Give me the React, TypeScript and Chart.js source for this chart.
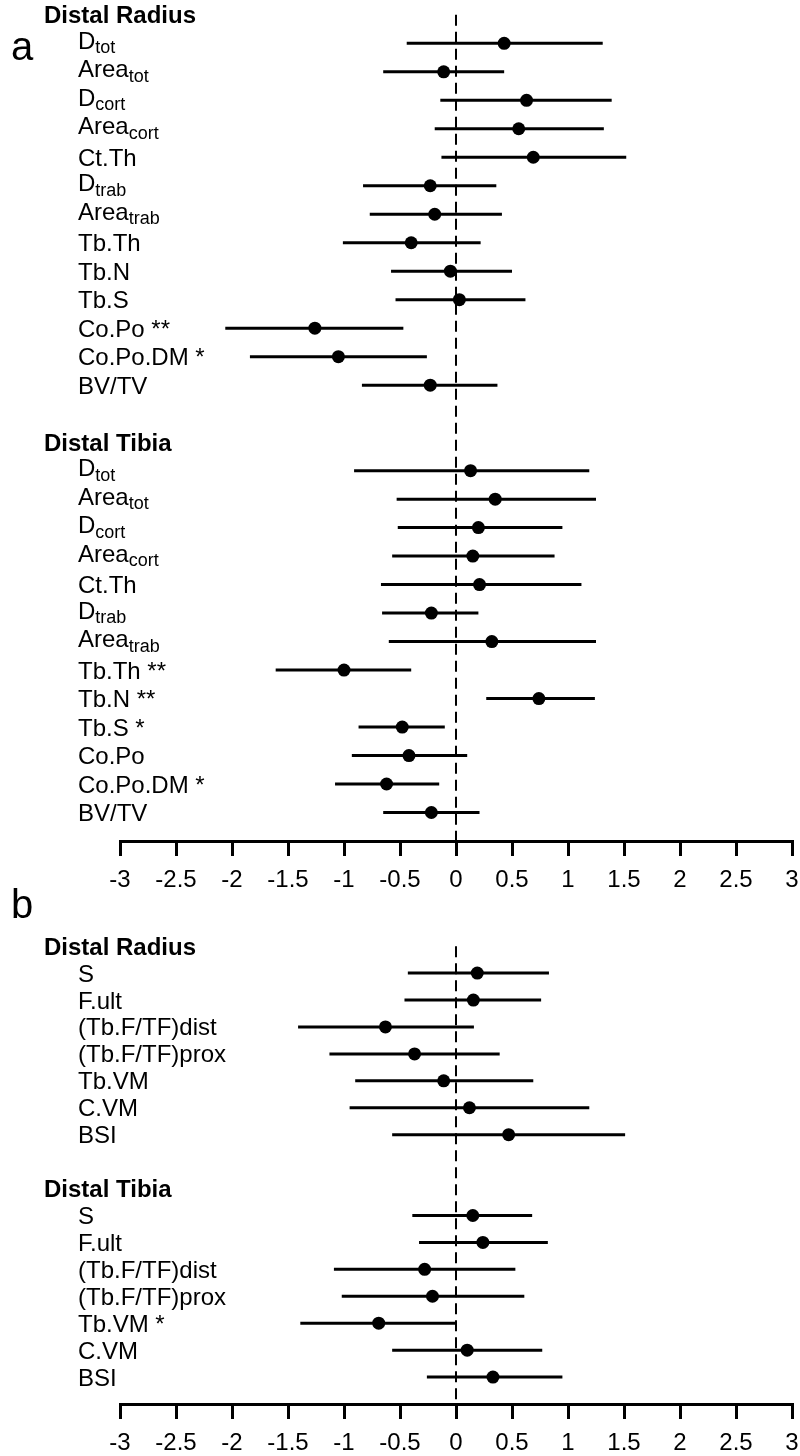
import React, { useEffect, useRef } from "react";
import { Chart, registerables } from "chart.js";

Chart.register(...registerables);

const FONT = '"Liberation Sans", Arial, Helvetica, sans-serif';

// x axis
const xTicks = [-3, -2.5, -2, -1.5, -1, -0.5, 0, 0.5, 1, 1.5, 2, 2.5, 3];
const xTickLabels = ["-3", "-2.5", "-2", "-1.5", "-1", "-0.5", "0", "0.5", "1", "1.5", "2", "2.5", "3"];

const groupNames = ["Distal Radius", "Distal Tibia"];

// Panel a – Distal Radius
const aRadiusLabels = ["D_tot", "Area_tot", "D_cort", "Area_cort", "Ct.Th", "D_trab", "Area_trab", "Tb.Th", "Tb.N", "Tb.S", "Co.Po **", "Co.Po.DM *", "BV/TV"];
const aRadiusEst = [0.43, -0.11, 0.63, 0.56, 0.69, -0.23, -0.19, -0.4, -0.05, 0.03, -1.26, -1.05, -0.23];
const aRadiusLow = [-0.44, -0.65, -0.14, -0.19, -0.13, -0.83, -0.77, -1.01, -0.58, -0.54, -2.06, -1.84, -0.84];
const aRadiusHigh = [1.31, 0.43, 1.39, 1.32, 1.52, 0.36, 0.41, 0.22, 0.5, 0.62, -0.47, -0.26, 0.37];

// Panel a – Distal Tibia
const aTibiaLabels = ["D_tot", "Area_tot", "D_cort", "Area_cort", "Ct.Th", "D_trab", "Area_trab", "Tb.Th **", "Tb.N **", "Tb.S *", "Co.Po", "Co.Po.DM *", "BV/TV"];
const aTibiaEst = [0.13, 0.35, 0.2, 0.15, 0.21, -0.22, 0.32, -1.0, 0.74, -0.48, -0.42, -0.62, -0.22];
const aTibiaLow = [-0.91, -0.53, -0.52, -0.57, -0.67, -0.66, -0.6, -1.61, 0.27, -0.87, -0.93, -1.08, -0.65];
const aTibiaHigh = [1.19, 1.25, 0.95, 0.88, 1.12, 0.2, 1.25, -0.4, 1.24, -0.1, 0.1, -0.15, 0.21];

// Panel b – Distal Radius
const bRadiusLabels = ["S", "F.ult", "(Tb.F/TF)dist", "(Tb.F/TF)prox", "Tb.VM", "C.VM", "BSI"];
const bRadiusEst = [0.19, 0.155, -0.63, -0.37, -0.11, 0.12, 0.47];
const bRadiusLow = [-0.43, -0.46, -1.41, -1.13, -0.9, -0.95, -0.57];
const bRadiusHigh = [0.83, 0.76, 0.16, 0.39, 0.69, 1.19, 1.51];

// Panel b – Distal Tibia
const bTibiaLabels = ["S", "F.ult", "(Tb.F/TF)dist", "(Tb.F/TF)prox", "Tb.VM *", "C.VM", "BSI"];
const bTibiaEst = [0.15, 0.24, -0.28, -0.21, -0.69, 0.1, 0.33];
const bTibiaLow = [-0.39, -0.33, -1.09, -1.02, -1.39, -0.57, -0.26];
const bTibiaHigh = [0.68, 0.82, 0.53, 0.61, 0.0, 0.77, 0.95];

type Group = { name: string; labels: string[]; est: number[]; low: number[]; high: number[] };

type PanelProps = {
  letter: string;
  groups: Group[];
  top: number;
  height: number;
  yMin: number;
  letterBaseline: number;
};

function Panel({ letter, groups, top, height, yMin, letterBaseline }: PanelProps) {
  const ref = useRef<HTMLCanvasElement | null>(null);

  useEffect(() => {
    if (!ref.current) return;
    const n = groups[0].labels.length;
    const axisSlot = 2 * n + 3;
    type Row = { slot: number; label: string; header: boolean; est?: number; low?: number; high?: number };
    const rows: Row[] = [];
    groups.forEach((g, gi) => {
      const base = gi * (n + 2);
      rows.push({ slot: base, label: g.name, header: true });
      g.labels.forEach((lab, i) => {
        rows.push({ slot: base + 1 + i, label: lab, header: false, est: g.est[i], low: g.low[i], high: g.high[i] });
      });
    });

    const datasets: any[] = [];
    datasets.push({
      data: rows.filter((r) => !r.header).map((r) => ({ x: r.est as number, y: r.slot })),
      pointRadius: 6.5,
      pointHoverRadius: 6.5,
      pointBackgroundColor: "#000",
      pointBorderWidth: 0,
      showLine: false,
      order: 0,
    });
    rows
      .filter((r) => !r.header)
      .forEach((r) => {
        datasets.push({
          data: [
            { x: r.low as number, y: r.slot },
            { x: r.high as number, y: r.slot },
          ],
          showLine: true,
          borderColor: "#000",
          borderWidth: 3,
          pointRadius: 0,
          pointHoverRadius: 0,
          order: 1,
        });
      });
    datasets.push({
      data: [
        { x: 0, y: 0 },
        { x: 0, y: axisSlot },
      ],
      showLine: true,
      borderColor: "#000",
      borderWidth: 2,
      borderDash: [11, 6],
      pointRadius: 0,
      pointHoverRadius: 0,
      order: 2,
    });

    const labelPlugin = {
      id: "forestLabels",
      afterDraw(chart: any) {
        const ctx = chart.ctx as CanvasRenderingContext2D;
        const ys = chart.scales.y;
        ctx.save();
        ctx.fillStyle = "#000";
        ctx.textBaseline = "alphabetic";
        ctx.textAlign = "left";
        ctx.font = `40px ${FONT}`;
        ctx.fillText(letter, 11, letterBaseline);
        rows.forEach((r) => {
          const py = ys.getPixelForValue(r.slot);
          if (r.header) {
            ctx.font = `bold 24px ${FONT}`;
            ctx.fillText(r.label, 44, py + 8.5);
            return;
          }
          const idx = r.label.indexOf("_");
          if (idx < 0) {
            ctx.font = `24px ${FONT}`;
            ctx.fillText(r.label, 78, py + 8.5);
          } else {
            const main = r.label.slice(0, idx);
            const sub = r.label.slice(idx + 1);
            ctx.font = `24px ${FONT}`;
            ctx.fillText(main, 78, py + 5.5);
            const w = ctx.measureText(main).width;
            ctx.font = `18px ${FONT}`;
            ctx.fillText(sub, 78 + w, py + 10);
          }
        });
        ctx.restore();
      },
    };

    const chart = new Chart(ref.current, {
      type: "scatter",
      data: { datasets },
      options: {
        responsive: false,
        animation: false,
        devicePixelRatio: 1,
        events: [],
        layout: { autoPadding: false, padding: { left: 120, right: 8, top: 0, bottom: 0 } },
        plugins: { legend: { display: false }, tooltip: { enabled: false } },
        scales: {
          x: {
            type: "linear",
            position: "bottom",
            min: -3,
            max: 3,
            afterBuildTicks: (s: any) => {
              s.ticks = xTicks.map((v) => ({ value: v }));
            },
            afterFit: (s: any) => {
              s.height = 64;
              s.paddingLeft = 0;
              s.paddingRight = 0;
            },
            ticks: {
              autoSkip: false,
              maxRotation: 0,
              minRotation: 0,
              padding: 10,
              color: "#000",
              font: { family: FONT, size: 24 },
              callback: (v: any) => {
                const i = xTicks.indexOf(Number(v));
                return i >= 0 ? xTickLabels[i] : "";
              },
            },
            grid: {
              drawOnChartArea: false,
              drawTicks: true,
              tickLength: 15,
              lineWidth: 3,
              color: "#000",
            },
            border: { display: true, width: 3, color: "#000" },
          },
          y: {
            type: "linear",
            reverse: true,
            min: yMin,
            max: axisSlot,
            display: false,
          },
        },
      } as any,
      plugins: [labelPlugin],
    });
    return () => chart.destroy();
  }, []);

  return (
    <canvas
      ref={ref}
      width={800}
      height={height}
      style={{ position: "absolute", left: 0, top, width: 800, height }}
    />
  );
}

export default function App() {
  const groupsA: Group[] = [
    { name: groupNames[0], labels: aRadiusLabels, est: aRadiusEst, low: aRadiusLow, high: aRadiusHigh },
    { name: groupNames[1], labels: aTibiaLabels, est: aTibiaEst, low: aTibiaLow, high: aTibiaHigh },
  ];
  const groupsB: Group[] = [
    { name: groupNames[0], labels: bRadiusLabels, est: bRadiusEst, low: bRadiusLow, high: bRadiusHigh },
    { name: groupNames[1], labels: bTibiaLabels, est: bTibiaEst, low: bTibiaLow, high: bTibiaHigh },
  ];
  return (
    <div
      style={{
        position: "absolute",
        left: 0,
        top: 0,
        width: 800,
        height: 1456,
        overflow: "hidden",
        background: "#fff",
      }}
    >
      <Panel letter="a" groups={groupsA} top={0} height={905} yMin={-0.52} letterBaseline={60} />
      <Panel letter="b" groups={groupsB} top={860} height={608} yMin={-3.2} letterBaseline={58} />
    </div>
  );
}
